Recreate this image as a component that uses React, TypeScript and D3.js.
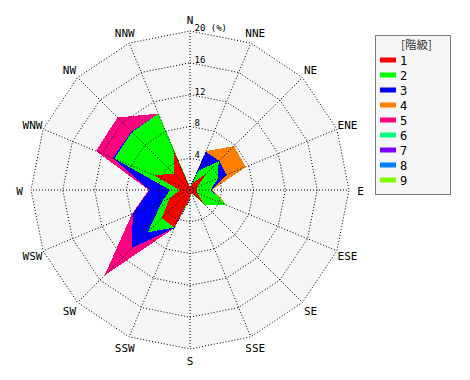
import React from "react";
import * as d3 from "d3";

const DIRECTIONS = ["N","NNE","NE","ENE","E","ESE","SE","SSE","S","SSW","SW","WSW","W","WNW","NW","NNW"];
// frequency (%) of each class per direction
const CLASS_1 = [0.3, 1.0, 2.8, 1.0, 0.8, 1.0, 2.4, 0.3, 1.0, 5.1, 5.0, 2.8, 1.3, 5.0, 2.8, 5.3];
const CLASS_2 = [0.1, 1.6, 2.3, 2.8, 1.8, 4.1, 0.2, 0.1, 0.2, 0.0, 2.5, 1.0, 1.2, 5.3, 7.5, 5.1];
const CLASS_3 = [0.0, 2.6, 0.1, 1.2, 0.1, 0.0, 0.0, 0.0, 0.1, 0.1, 2.8, 4.0, 2.6, 0.2, 0.1, 0.0];
const CLASS_4 = [0.0, 0.1, 2.6, 2.6, 0.1, 0.0, 0.0, 0.0, 0.0, 0.0, 0.0, 0.0, 0.0, 0.0, 0.0, 0.0];
const CLASS_5 = [0.0, 0.0, 0.0, 0.0, 0.0, 0.0, 0.0, 0.0, 0.0, 0.0, 4.9, 0.1, 0.1, 2.3, 2.5, 0.0];
const CLASS_6 = [0,0,0,0,0,0,0,0,0,0,0,0,0,0,0,0];
const CLASS_7 = [0,0,0,0,0,0,0,0,0,0,0,0,0,0,0,0];
const CLASS_8 = [0,0,0,0,0,0,0,0,0,0,0,0,0,0,0,0];
const CLASS_9 = [0,0,0,0,0,0,0,0,0,0,0,0,0,0,0,0];
const CLASS_NAMES = ["1","2","3","4","5","6","7","8","9"];
const CLASS_COLORS = ["#ff0000","#00ff00","#0000ff","#ff8000","#ff0080","#00ff80","#8000ff","#0080ff","#80ff00"];
const RING_TICKS = [4, 8, 12, 16, 20];
const LEGEND_TITLE = "[階級]";

const CLASS_VALUES = [CLASS_1, CLASS_2, CLASS_3, CLASS_4, CLASS_5, CLASS_6, CLASS_7, CLASS_8, CLASS_9];

const CX = 190, CY = 190, R = 159;
const MONO = "'DejaVu Sans Mono', monospace";

export default function App() {
  const rows = DIRECTIONS.map((d, i) => {
    const o: any = { dir: d };
    CLASS_NAMES.forEach((c, k) => (o[c] = CLASS_VALUES[k][i]));
    return o;
  });
  const stacked = d3.stack().keys(CLASS_NAMES)(rows);
  const r = d3.scaleLinear().domain([0, 20]).range([0, R]);
  const ang = d3.scaleLinear().domain([0, DIRECTIONS.length]).range([0, 2 * Math.PI]);
  const pt = (i: number, rad: number): [number, number] => [
    CX + rad * Math.sin(ang(i)),
    CY - rad * Math.cos(ang(i)),
  ];
  const radial = d3
    .lineRadial<number>()
    .angle((_, i) => ang(i))
    .radius((v) => r(v))
    .curve(d3.curveLinearClosed);
  const ring = (v: number) => radial(DIRECTIONS.map(() => v)) as string;

  const drawOrder = stacked
    .map((s, k) => ({ s, k }))
    .filter(({ k }) => CLASS_VALUES[k].some((v) => v > 0))
    .reverse();

  return (
    <svg width={470} height={380} style={{ position: "absolute", left: 0, top: 0, background: "#fff" }}>
      <g transform={`translate(${CX},${CY})`}>
        <path d={ring(20)} fill="#f6f6f6" />
      </g>
      <g transform={`translate(${CX},${CY})`} shapeRendering="crispEdges">
        {drawOrder.map(({ s, k }) => (
          <path key={k} d={radial(s.map((d) => d[1])) as string} fill={CLASS_COLORS[k]} />
        ))}
      </g>
      <g transform={`translate(${CX},${CY})`} fill="none" stroke="#000" strokeWidth={1} strokeDasharray="1,2">
        {RING_TICKS.map((t) => (
          <path key={t} d={ring(t)} />
        ))}
      </g>
      <g fill="none" stroke="#000" strokeWidth={1} strokeDasharray="1,2">
        {DIRECTIONS.map((d, i) => {
          const [x, y] = pt(i, R);
          return <line key={d} x1={CX} y1={CY} x2={x} y2={y} />;
        })}
      </g>
      <g fontFamily={MONO} fontSize={9} fill="#000">
        {RING_TICKS.map((t) => (
          <text key={t} x={CX + 4.5} y={CY - r(t)}>
            {t === 20 ? "20 (%)" : String(t)}
          </text>
        ))}
      </g>
      <g fontFamily={MONO} fontSize={11} fill="#000" textAnchor="middle" dominantBaseline="central">
        {DIRECTIONS.map((d, i) => {
          const [x, y] = pt(i, 170.5);
          return (
            <text key={d} x={x} y={y + 1}>
              {d}
            </text>
          );
        })}
      </g>
      <g>
        <rect x={375.5} y={35.5} width={75} height={159} fill="#f6f6f6" stroke="#000" strokeDasharray="1,1" />
        <text x={416.5} y={44} textAnchor="middle" dominantBaseline="central" fontFamily="'Noto Sans CJK JP'" fontSize={11.5} fill="#333">
          {LEGEND_TITLE}
        </text>
        {CLASS_NAMES.map((c, k) => (
          <g key={c}>
            <rect x={380} y={57.5 + k * 15} width={16} height={5} fill={CLASS_COLORS[k]} />
            <text x={400} y={60.5 + k * 15} dominantBaseline="central" fontFamily={MONO} fontSize={12} fill="#000">
              {c}
            </text>
          </g>
        ))}
      </g>
    </svg>
  );
}
